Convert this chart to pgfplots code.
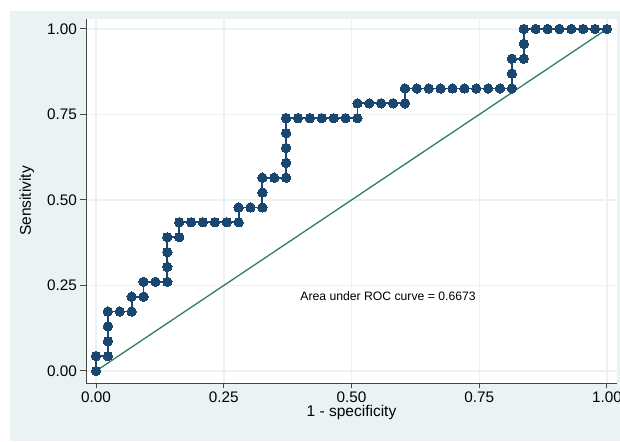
\documentclass[border=0pt]{standalone}
\usepackage{fontspec}
\setmainfont{Liberation Sans}
\usepackage{pgfplots}
\usepackage{pgfplotstable}
\pgfplotsset{compat=1.18}

\definecolor{stbg}{RGB}{234,242,243}
\definecolor{stnavy}{RGB}{26,71,111}
\definecolor{stgreen}{RGB}{46,125,108}
\definecolor{staxis}{RGB}{70,70,70}

% empirical ROC points: 1 - specificity, sensitivity
\pgfplotstableread{
fpr tpr
0 0
0 0.04348
0.02326 0.04348
0.02326 0.08696
0.02326 0.13043
0.02326 0.17391
0.04651 0.17391
0.06977 0.17391
0.06977 0.21739
0.09302 0.21739
0.09302 0.26087
0.11628 0.26087
0.13953 0.26087
0.13953 0.30435
0.13953 0.34783
0.13953 0.39130
0.16279 0.39130
0.16279 0.43478
0.18605 0.43478
0.20930 0.43478
0.23256 0.43478
0.25581 0.43478
0.27907 0.43478
0.27907 0.47826
0.30233 0.47826
0.32558 0.47826
0.32558 0.52174
0.32558 0.56522
0.34884 0.56522
0.37209 0.56522
0.37209 0.60870
0.37209 0.65217
0.37209 0.69565
0.37209 0.73913
0.39535 0.73913
0.41860 0.73913
0.44186 0.73913
0.46512 0.73913
0.48837 0.73913
0.51163 0.73913
0.51163 0.78261
0.53488 0.78261
0.55814 0.78261
0.58140 0.78261
0.60465 0.78261
0.60465 0.82609
0.62791 0.82609
0.65116 0.82609
0.67442 0.82609
0.69767 0.82609
0.72093 0.82609
0.74419 0.82609
0.76744 0.82609
0.79070 0.82609
0.81395 0.82609
0.81395 0.86957
0.81395 0.91304
0.83721 0.91304
0.83721 0.95652
0.83721 1
0.86047 1
0.88372 1
0.90698 1
0.93023 1
0.95349 1
0.97674 1
1 1
}\roc

\begin{document}
\begin{tikzpicture}[x=1pt,y=1pt]
\path[use as bounding box] (0,0) rectangle (620,441);
\fill[stbg] (10,0) rectangle (620,430);
\begin{axis}[
    at={(86pt,58pt)}, anchor=south west,
    scale only axis,
    width=531pt, height=364pt,
    xmin=-0.0196, xmax=1.0196,
    ymin=-0.0351, ymax=1.0292,
    axis x line*=bottom, axis y line*=left,
    axis line style={-, staxis, line width=1pt},
    axis background/.style={fill=white},
    xtick={0,0.25,0.5,0.75,1},
    ytick={0,0.25,0.5,0.75,1},
    tick align=outside,
    major tick length=5.5pt,
    tick style={staxis, line width=1pt},
    grid=major,
    major grid style={stbg, line width=1.5pt},
    ticklabel style={font=\fontsize{15.3}{18}\selectfont},
    /pgf/number format/.cd, fixed, fixed zerofill, precision=2, assume math mode=true,
    /pgfplots/.cd,
    xlabel={1 - specificity},
    ylabel={Sensitivity},
    every axis x label/.style={at={(axis description cs:0.5,-0.0934)}, anchor=base, font=\fontsize{15.5}{18}\selectfont},
    every axis y label/.style={at={(axis description cs:-0.1036,0.5)}, rotate=90, anchor=base, font=\fontsize{15.5}{18}\selectfont},
    clip=false,
]
\addplot[stnavy, line width=1.8pt, mark=*, mark size=4.7pt,
    mark options={fill=stnavy, draw=stnavy, line width=0pt}]
    table[x=fpr, y=tpr] {\roc};
\addplot[stgreen, line width=1.3pt] coordinates {(0,0) (1,1)};
\node[anchor=base west, font=\fontsize{12.2}{14}\selectfont] at (axis cs:0.393,0.207) {Area under ROC curve = 0.6673};
\end{axis}
\end{tikzpicture}
\end{document}
